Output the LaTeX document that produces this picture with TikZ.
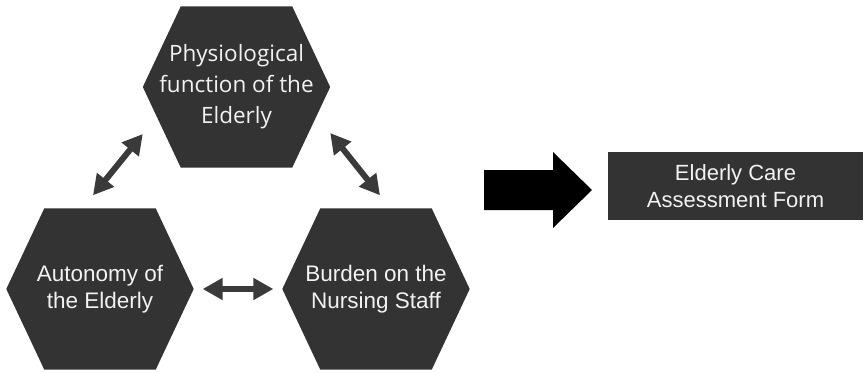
\documentclass[tikz,border=0pt]{standalone}
\usepackage{fontspec}
\setmainfont{Liberation Sans}
\newfontfamily\opensans{Open Sans}
\usetikzlibrary{arrows.meta, positioning, backgrounds, calc}
\definecolor{hexgray}{HTML}{333333}
\definecolor{arrowgray}{HTML}{3A3A3A}
\definecolor{labelwhite}{HTML}{F2F2F2}

\begin{document}
\begin{tikzpicture}[
  x=1pt, y=-1pt,
  hexbox/.style={minimum width=187pt, minimum height=161pt, inner sep=0pt,
    align=center, text=labelwhite, font=\fontsize{22.5}{27}\selectfont},
  dblarrow/.style={draw=arrowgray, line width=6pt,
    {Triangle[length=20pt,width=21pt]}-{Triangle[length=20pt,width=21pt]}},
  formbox/.style={fill=hexgray, minimum width=255pt, minimum height=68pt,
    inner sep=0pt, align=center, text=labelwhite, font=\fontsize{22}{27}\selectfont}
]
\useasboundingbox (0,0) rectangle (864,372);

% three factors
\node[hexbox, font=\opensans\fontsize{22.5}{31}\selectfont] (phys) at (236.5,87)
  {Physiological\\function of the\\Elderly};
\node[hexbox] (auto) at (100,289) {Autonomy of\\the Elderly};
\node[hexbox] (burden) at (376,289) {Burden on the\\Nursing Staff};

\begin{scope}[on background layer]
\foreach \h in {phys, auto, burden}
  \fill[hexgray] (\h.west) -- ([xshift=38pt]\h.north west)
    -- ([xshift=-38pt]\h.north east) -- (\h.east)
    -- ([xshift=-38pt]\h.south east) -- ([xshift=38pt]\h.south west) -- cycle;
\end{scope}

% mutual links
\draw[dblarrow] ([yshift=-47pt]phys.west) -- ([shift={(-7pt,13pt)}]auto.north);
\draw[dblarrow] ([yshift=-46pt]phys.east) -- ([shift={(4pt,13pt)}]burden.north);
\draw[dblarrow] ([xshift=9pt]auto.east) -- ([xshift=-9pt]burden.west);

% result
\node[formbox] (form) at (735.5,186) {Elderly Care\\Assessment Form};

\coordinate (bigtail) at (484,190);
\fill[black] (bigtail) ++(0,-20) -- ++(69,0) -- ++(0,-18) -- ++(39,38)
  -- ++(-39,38) -- ++(0,-18) -- ++(-69,0) -- cycle;
\end{tikzpicture}
\end{document}
